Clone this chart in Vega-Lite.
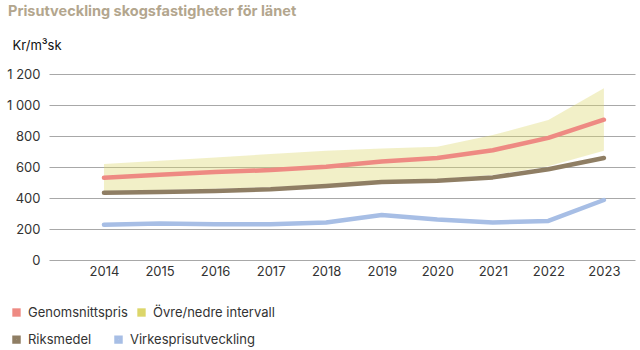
{
  "$schema": "https://vega.github.io/schema/vega-lite/v6.json",
  "autosize": "none",
  "width": 586,
  "height": 186,
  "padding": {"left": 49, "top": 74, "right": 5, "bottom": 90},
  "config": {
    "view": {"stroke": null},
    "font": "Inter",
    "locale": {"number": {"decimal": ",", "thousands": " ", "grouping": [3], "currency": ["", " kr"]}},
    "legend": {
      "symbolOpacity": 1,
      "title": null,
      "orient": "none",
      "direction": "horizontal",
      "symbolType": "square",
      "symbolSize": 70,
      "symbolStrokeWidth": 0,
      "labelFontSize": 13,
      "labelColor": "#333333",
      "labelFont": "Inter",
      "columnPadding": 16,
      "labelOffset": 5
    }
  },
  "title": {
    "text": "Prisutveckling skogsfastigheter för länet",
    "anchor": "start",
    "frame": "group",
    "dx": -41,
    "offset": 20,
    "fontSize": 14.5,
    "fontWeight": "bold",
    "color": "#b3a68e",
    "font": "Inter"
  },
  "datasets": {
    "lines": [
      {"year": 2014, "series": "Genomsnittspris", "value": 530},
      {"year": 2015, "series": "Genomsnittspris", "value": 550},
      {"year": 2016, "series": "Genomsnittspris", "value": 568},
      {"year": 2017, "series": "Genomsnittspris", "value": 580},
      {"year": 2018, "series": "Genomsnittspris", "value": 602},
      {"year": 2019, "series": "Genomsnittspris", "value": 635},
      {"year": 2020, "series": "Genomsnittspris", "value": 658},
      {"year": 2021, "series": "Genomsnittspris", "value": 708},
      {"year": 2022, "series": "Genomsnittspris", "value": 788},
      {"year": 2023, "series": "Genomsnittspris", "value": 905},
      {"year": 2014, "series": "Riksmedel", "value": 434},
      {"year": 2015, "series": "Riksmedel", "value": 439},
      {"year": 2016, "series": "Riksmedel", "value": 445},
      {"year": 2017, "series": "Riksmedel", "value": 456},
      {"year": 2018, "series": "Riksmedel", "value": 477},
      {"year": 2019, "series": "Riksmedel", "value": 503},
      {"year": 2020, "series": "Riksmedel", "value": 512},
      {"year": 2021, "series": "Riksmedel", "value": 533},
      {"year": 2022, "series": "Riksmedel", "value": 585},
      {"year": 2023, "series": "Riksmedel", "value": 658},
      {"year": 2014, "series": "Virkesprisutveckling", "value": 228},
      {"year": 2015, "series": "Virkesprisutveckling", "value": 236},
      {"year": 2016, "series": "Virkesprisutveckling", "value": 231},
      {"year": 2017, "series": "Virkesprisutveckling", "value": 230},
      {"year": 2018, "series": "Virkesprisutveckling", "value": 242},
      {"year": 2019, "series": "Virkesprisutveckling", "value": 290},
      {"year": 2020, "series": "Virkesprisutveckling", "value": 262},
      {"year": 2021, "series": "Virkesprisutveckling", "value": 242},
      {"year": 2022, "series": "Virkesprisutveckling", "value": 252},
      {"year": 2023, "series": "Virkesprisutveckling", "value": 387}
    ],
    "band": [
      {"year": 2014, "series": "Övre/nedre intervall", "value": 445, "hi": 619},
      {"year": 2015, "series": "Övre/nedre intervall", "value": 452, "hi": 641},
      {"year": 2016, "series": "Övre/nedre intervall", "value": 460, "hi": 662},
      {"year": 2017, "series": "Övre/nedre intervall", "value": 470, "hi": 684},
      {"year": 2018, "series": "Övre/nedre intervall", "value": 487, "hi": 705},
      {"year": 2019, "series": "Övre/nedre intervall", "value": 508, "hi": 720},
      {"year": 2020, "series": "Övre/nedre intervall", "value": 522, "hi": 731},
      {"year": 2021, "series": "Övre/nedre intervall", "value": 548, "hi": 806},
      {"year": 2022, "series": "Övre/nedre intervall", "value": 605, "hi": 903},
      {"year": 2023, "series": "Övre/nedre intervall", "value": 705, "hi": 1108}
    ]
  },
  "encoding": {
    "x": {
      "field": "year",
      "type": "quantitative",
      "scale": {"domain": [2013.01, 2023.56], "nice": false, "zero": false},
      "axis": {
        "title": null,
        "values": [2014, 2015, 2016, 2017, 2018, 2019, 2020, 2021, 2022, 2023],
        "format": "d",
        "grid": false,
        "domain": false,
        "ticks": false,
        "labelPadding": 5,
        "labelFontSize": 13,
        "labelColor": "#333333",
        "labelFont": "Inter"
      }
    },
    "y": {
      "field": "value",
      "type": "quantitative",
      "scale": {"domain": [0, 1200], "nice": false},
      "axis": {
        "title": "Kr/m³sk",
        "titleAngle": 0,
        "titleAlign": "left",
        "titleBaseline": "middle",
        "titleX": -37,
        "titleY": -29,
        "titleFontSize": 13,
        "titleFontWeight": "normal",
        "titleColor": "#111111",
        "titleFont": "Inter",
        "values": [0, 200, 400, 600, 800, 1000, 1200],
        "format": ",d",
        "labelOverlap": false,
        "grid": true,
        "gridColor": "#a8a8a8",
        "gridWidth": 1,
        "domain": false,
        "ticks": false,
        "labelPadding": 9,
        "labelFontSize": 13,
        "labelColor": "#333333",
        "labelFont": "Inter"
      }
    }
  },
  "layer": [
    {
      "data": {"name": "band"},
      "mark": {"type": "area", "opacity": 0.37},
      "encoding": {
        "y2": {"field": "hi"},
        "fill": {
          "field": "series",
          "type": "nominal",
          "scale": {"domain": ["Övre/nedre intervall"], "range": ["#dcd66a"]},
          "legend": {"legendX": 86, "legendY": 232}
        }
      }
    },
    {
      "data": {"name": "lines"},
      "transform": [{"filter": "datum.series === 'Genomsnittspris'"}],
      "mark": {"type": "line", "strokeWidth": 4.5, "strokeCap": "round", "strokeJoin": "round"},
      "encoding": {
        "stroke": {
          "field": "series",
          "type": "nominal",
          "scale": {"domain": ["Genomsnittspris"], "range": ["#ee8a83"]},
          "legend": {"legendX": -39, "legendY": 232, "symbolFillColor": "#ee8a83"}
        }
      }
    },
    {
      "data": {"name": "lines"},
      "transform": [{"filter": "datum.series !== 'Genomsnittspris'"}],
      "mark": {"type": "line", "strokeWidth": 4.5, "strokeCap": "round", "strokeJoin": "round"},
      "encoding": {
        "color": {
          "field": "series",
          "type": "nominal",
          "scale": {"domain": ["Riksmedel", "Virkesprisutveckling"], "range": ["#8f7e64", "#a7bee5"]},
          "legend": {"legendX": -39, "legendY": 259, "columns": 2, "symbolStrokeWidth": 4, "symbolSize": 20}
        }
      }
    }
  ]
}
